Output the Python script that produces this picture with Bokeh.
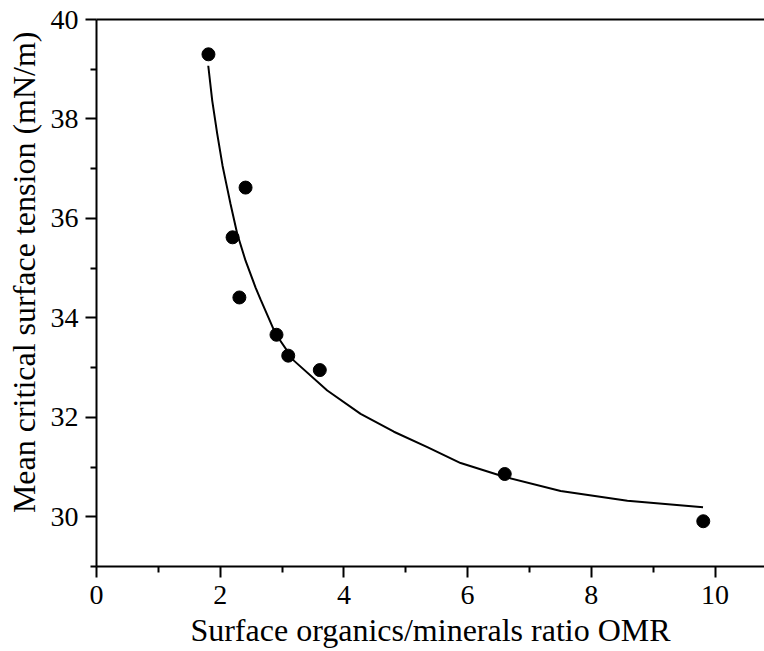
from bokeh.plotting import figure
from bokeh.models import LinearAxis, FixedTicker, Range1d, Title
from bokeh.embed import file_html
from bokeh.resources import INLINE

# Measured data (OMR vs mean critical surface tension)
omr = [1.81, 2.20, 2.31, 2.41, 2.91, 3.10, 3.61, 6.60, 9.81]
tension = [39.30, 35.62, 34.41, 36.62, 33.66, 33.24, 32.95, 30.86, 29.91]

# Fitted curve
fit_x = [1.807, 1.871, 1.952, 2.038, 2.098, 2.167, 2.275, 2.41, 2.572, 2.652,
         2.895, 3.191, 3.731, 4.27, 4.808, 5.349, 5.887, 6.604, 7.504, 8.583, 9.806]
fit_y = [39.07, 38.37, 37.70, 37.06, 36.70, 36.29, 35.69, 35.15, 34.61, 34.37,
         33.68, 33.14, 32.54, 32.07, 31.71, 31.40, 31.08, 30.80, 30.52, 30.32, 30.19]

x_ticks = [0, 2, 4, 6, 8, 10]
x_minor = [1, 3, 5, 7, 9]
y_ticks = [30, 32, 34, 36, 38, 40]
y_minor = [29, 31, 33, 35, 37, 39]

x_title = "Surface organics/minerals ratio OMR"
y_title = "Mean critical surface tension (mN/m)"

FONT = "Liberation Serif"

p = figure(width=764, height=651, output_backend="svg", toolbar_location=None,
           x_range=Range1d(0, 10.8), y_range=Range1d(29, 40),
           min_border_left=96, min_border_right=0, min_border_top=19, min_border_bottom=85)
p.outline_line_color = None
p.grid.visible = False
p.background_fill_color = "white"
p.border_fill_color = "white"

p.line(fit_x, fit_y, line_color="black", line_width=2)
p.scatter(omr, tension, size=13, fill_color="black", line_color="black")

for ax in (p.xaxis[0], p.yaxis[0]):
    ax.axis_line_color = "black"
    ax.axis_line_width = 2
    ax.major_tick_line_width = 2
    ax.minor_tick_line_width = 2
    ax.major_tick_in = 0
    ax.major_tick_out = 11
    ax.minor_tick_in = 0
    ax.minor_tick_out = 6
    ax.major_label_text_font = FONT
    ax.major_label_text_font_size = "28px"
    ax.major_label_text_color = "black"

p.xaxis[0].ticker = FixedTicker(ticks=x_ticks, minor_ticks=x_minor)
p.yaxis[0].ticker = FixedTicker(ticks=y_ticks, minor_ticks=y_minor)
p.xaxis[0].major_label_standoff = 8
p.yaxis[0].major_label_standoff = 7

p.xaxis[0].axis_label = x_title
p.xaxis[0].axis_label_text_font = FONT
p.xaxis[0].axis_label_text_font_size = "32px"
p.xaxis[0].axis_label_text_font_style = "normal"
p.xaxis[0].axis_label_text_color = "black"
p.xaxis[0].axis_label_standoff = 5

top = LinearAxis(ticker=FixedTicker(ticks=[]), major_label_text_font_size="0px",
                 major_tick_out=0, major_tick_in=0, minor_tick_out=0, minor_tick_in=0,
                 major_label_standoff=0, axis_line_width=2, axis_line_color="black")
p.add_layout(top, "above")

p.add_layout(Title(text=y_title, text_font=FONT, text_font_size="32px",
                   text_font_style="normal", text_color="black",
                   align="right", offset=12, standoff=7, vertical_align="top"), "left")

open("out.html", "w").write(file_html(p, INLINE))
